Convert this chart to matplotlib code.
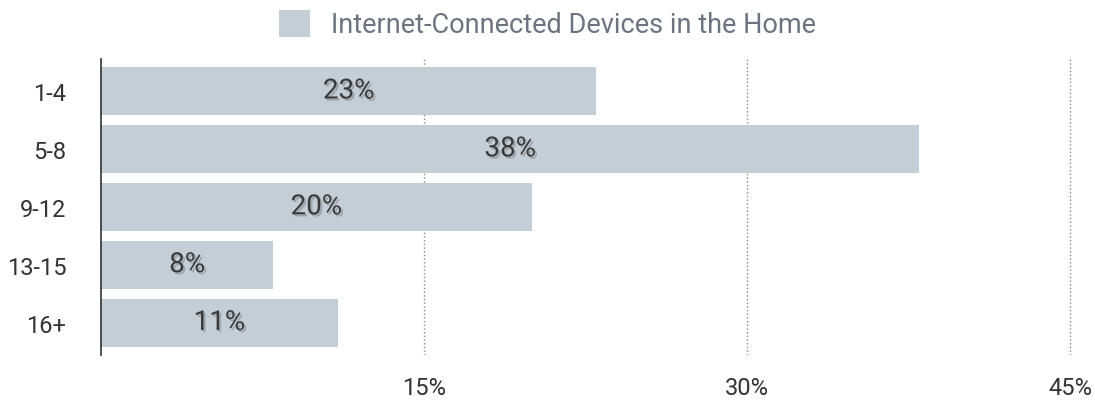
import matplotlib.pyplot as plt
import matplotlib.patheffects as pe
import numpy as np

plt.rcParams['font.family'] = ['Roboto', 'DejaVu Sans']

categories = ["1-4", "5-8", "9-12", "13-15", "16+"]
values = [23, 38, 20, 8, 11]
ticks = [15, 30, 45]
series_name = "Internet-Connected Devices in the Home"

bar_color = "#c3ced7"

fig = plt.figure(figsize=(10.95, 4.02), dpi=100)
ax = fig.add_axes([101/1095, 1-356/402, (1090-101)/1095, (356-60)/402])

y = np.arange(len(categories))
ax.barh(y, values, height=0.83, color=bar_color, label=series_name, zorder=2)

shadow = [pe.withSimplePatchShadow(offset=(1.5, -1.5), shadow_rgbFace='#777777', alpha=0.45)]
for yi, v in zip(y, values):
    ax.text(v/2, yi, f"{v}%", ha='center', va='center', fontsize=20,
            color='#3a3a3a', zorder=3, path_effects=shadow)

ax.set_xlim(0, 45.93)
ax.set_ylim(4.56, -0.553)
ax.set_yticks(y)
ax.set_yticklabels(categories)
ax.set_xticks(ticks)
ax.set_xticklabels([f"{t}%" for t in ticks])
ax.tick_params(axis='both', length=0, labelsize=17, colors='#333333')
ax.tick_params(axis='y', pad=25)
ax.tick_params(axis='x', pad=15)
for s in ['top', 'right', 'bottom']:
    ax.spines[s].set_visible(False)
ax.spines['left'].set_color('#333333')
ax.spines['left'].set_linewidth(1.2)
ax.grid(axis='x', ls=':', color='#888888', lw=1, zorder=1)
ax.set_axisbelow(True)

handles, labels = ax.get_legend_handles_labels()
leg = fig.legend(handles, labels, loc='upper center', bbox_to_anchor=(0.5, 1.0),
                 frameon=False, fontsize=19.5, handlelength=1.15, handleheight=1.15,
                 handletextpad=0.8, borderaxespad=0.0)
for t in leg.get_texts():
    t.set_color('#6b7480')

fig.savefig("out.png", dpi=100)
